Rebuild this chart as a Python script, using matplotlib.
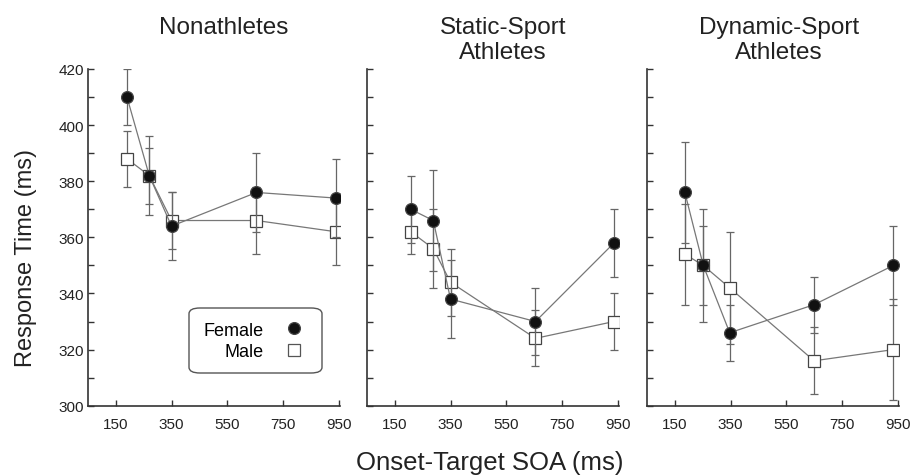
import matplotlib
matplotlib.use("Agg")
import matplotlib.pyplot as plt
from matplotlib.lines import Line2D
from matplotlib.patches import FancyBboxPatch

plt.rcParams['font.family'] = ['Liberation Sans', 'DejaVu Sans']

title_lines = [["Nonathletes"], ["Static-Sport", "Athletes"], ["Dynamic-Sport", "Athletes"]]
soa = [
    [190, 270, 350, 655, 940],
    [207, 288, 350, 655, 937],
    [186, 252, 347, 650, 935],
]
female = [
    [410, 382, 364, 376, 374],
    [370, 366, 338, 330, 358],
    [376, 350, 326, 336, 350],
]
female_err = [
    [10, 14, 12, 14, 14],
    [12, 18, 14, 12, 12],
    [18, 20, 10, 10, 14],
]
male = [
    [388, 382, 366, 366, 362],
    [362, 356, 344, 324, 330],
    [354, 350, 342, 316, 320],
]
male_err = [
    [10, 10, 10, 12, 12],
    [8, 14, 12, 10, 10],
    [18, 14, 20, 12, 18],
]
xticks = [150, 350, 550, 750, 950]
yticks = [300, 320, 340, 360, 380, 400, 420]

W, H = 914, 477
fig = plt.figure(figsize=(W / 100, H / 100), dpi=100)
lefts = [88, 367, 647]
bottom = 1 - 406.7 / H
height = (406.7 - 70) / H
width = 252 / W
title_cx = [224, 503, 779]

line_c = '#777777'
err_c = '#666666'
axes = []
for i in range(3):
    ax = fig.add_axes([lefts[i] / W, bottom, width, height])
    axes.append(ax)
    ax.errorbar(soa[i], male[i], yerr=male_err[i], color=line_c, lw=0.9,
                ecolor=err_c, elinewidth=0.9, capsize=3, capthick=0.9,
                marker='s', ms=8, mfc='white', mec='#444444', mew=0.9,
                zorder=2)
    ax.errorbar(soa[i], female[i], yerr=female_err[i], color=line_c, lw=0.9,
                ecolor=err_c, elinewidth=0.9, capsize=3, capthick=0.9,
                marker='o', ms=8.5, mfc='#111111', mec='#444444', mew=0.9,
                zorder=3)
    ax.set_xlim(50, 955)
    ax.set_ylim(300, 420)
    ax.set_xticks(xticks)
    ax.set_yticks(range(300, 421, 10))
    ax.spines['top'].set_visible(False)
    ax.spines['right'].set_visible(False)
    for s in ['left', 'bottom']:
        ax.spines[s].set_color('#333333')
        ax.spines[s].set_linewidth(1.2)
    ax.tick_params(direction='in', length=4, width=1, color='#333333',
                   labelsize=11, pad=8, labelcolor='#222222')
    ax.set_xticklabels([str(t) for t in xticks])
    if i == 0:
        ax.set_yticklabels([str(v) if v % 20 == 0 else '' for v in range(300, 421, 10)])
        ax.tick_params(axis='y', pad=3)
    else:
        ax.set_yticklabels([])
    for j, line in enumerate(title_lines[i]):
        fig.text(title_cx[i] / W, 1 - (34 + 25 * j) / H, line, ha='center',
                 va='baseline', fontsize=17.5, color='#222222')

# legend
handles = [Line2D([], [], ls='none', marker='o', ms=8.5, mfc='#111111', mec='#444444', mew=0.9),
           Line2D([], [], ls='none', marker='s', ms=8, mfc='white', mec='#555555', mew=0.9)]
labels = ['Female', 'Male']
leg = fig.legend(handles, labels, loc='center', bbox_to_anchor=(253 / W, 1 - 342 / H),
                 bbox_transform=fig.transFigure, markerfirst=False, fontsize=13,
                 frameon=False, handlelength=1.0, handletextpad=1.2,
                 labelspacing=0.25, numpoints=1)
frame = FancyBboxPatch((189 / W, 1 - 374 / H), 133 / W, 65 / H,
                       boxstyle='round,pad=0,rounding_size=0.012',
                       transform=fig.transFigure, facecolor='white',
                       edgecolor='#555555', lw=1.0, zorder=5)
fig.patches.append(frame)
leg.set_zorder(6)

fig.text(26 / W, 1 - 258 / H, "Response Time (ms)", rotation=90, ha='center', va='center',
         fontsize=17, color='#222222')
fig.text(490 / W, 1 - 470 / H, "Onset-Target SOA (ms)", ha='center', va='baseline',
         fontsize=18.5, color='#222222')

fig.savefig("out.png", dpi=100, facecolor='white')
